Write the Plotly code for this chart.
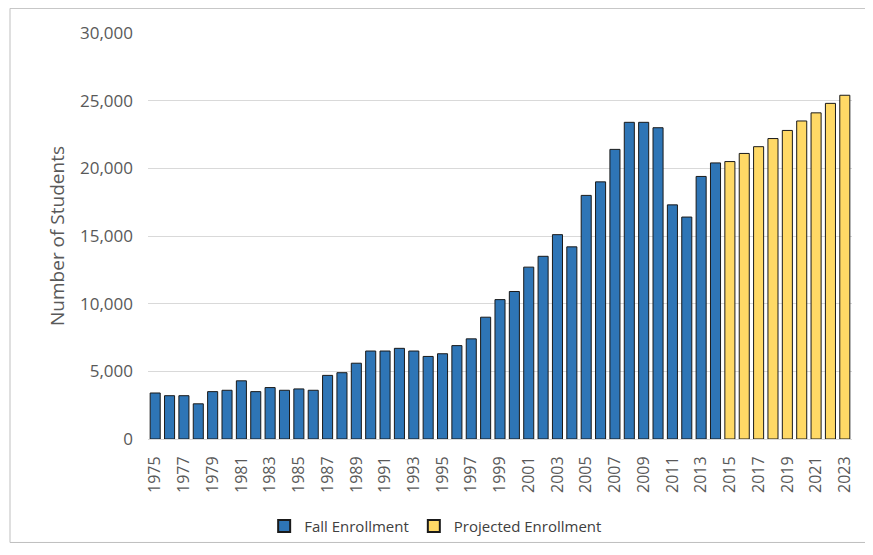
import plotly.graph_objects as go

fall_years = [str(y) for y in range(1975, 2015)]
fall_values = [3400, 3200, 3200, 2600, 3500, 3600, 4300, 3500, 3800, 3600,
               3700, 3600, 4700, 4900, 5600, 6500, 6500, 6700, 6500, 6100,
               6300, 6900, 7400, 9000, 10300, 10900, 12700, 13500, 15100, 14200,
               18000, 19000, 21400, 23400, 23400, 23000, 17300, 16400, 19400, 20400]
proj_years = [str(y) for y in range(2015, 2024)]
proj_values = [20500, 21100, 21600, 22200, 22800, 23500, 24100, 24800, 25400]
all_years = fall_years + proj_years
tick_years = all_years[::2]

font_fam = "Open Sans, Noto Sans, sans-serif"
fig = go.Figure()
fig.add_trace(go.Bar(x=fall_years, y=fall_values, name="Fall Enrollment",
                     marker=dict(color="#2E75B6", line=dict(color="#1a1a1a", width=1))))
fig.add_trace(go.Bar(x=proj_years, y=proj_values, name="Projected Enrollment",
                     marker=dict(color="#FFD966", line=dict(color="#1a1a1a", width=1))))

W, H = 865, 547
ml, mr, mt, mb = 140, 21, 25, 110
pw, ph = W - ml - mr, H - mt - mb
# outer border in figure pixel coords -> paper coords
bx0, bx1, by0, by1 = 2, 860, 0, 542
fig.update_layout(
    width=W, height=H,
    margin=dict(l=ml, r=mr, t=mt, b=mb),
    paper_bgcolor="white", plot_bgcolor="white",
    barmode="overlay", bargap=0.3,
    font=dict(family=font_fam, color="#595959", size=13),
    legend=dict(orientation="h", x=0.165, xanchor="left", y=-0.215, yanchor="middle",
                bgcolor="rgba(0,0,0,0)",
                font=dict(size=15, color="#404040"), itemsizing="constant"),
    shapes=[dict(type="rect", xref="paper", yref="paper",
                 x0=(bx0 - ml) / pw, x1=(bx1 - ml) / pw,
                 y0=(H - mb - by1) / ph, y1=(H - mb - by0) / ph,
                 line=dict(color="#bfbfbf", width=1), fillcolor="rgba(0,0,0,0)")],
)
fig.update_xaxes(type="category", categoryorder="array", categoryarray=all_years,
                 tickvals=tick_years, ticktext=tick_years, tickangle=-90,
                 showline=True, linecolor="#d9d9d9", showgrid=False, ticks="",
                 ticklabelstandoff=10,
                 tickfont=dict(size=16, color="#595959"))
fig.update_yaxes(range=[0, 30000], dtick=5000, tickformat=",", showgrid=True,
                 gridcolor="#d9d9d9", zeroline=False, ticks="", ticklabelstandoff=14,
                 title=dict(text="Number of Students", font=dict(size=19, color="#595959"), standoff=10),
                 tickfont=dict(size=17, color="#595959"))
fig.write_html("out.html")
